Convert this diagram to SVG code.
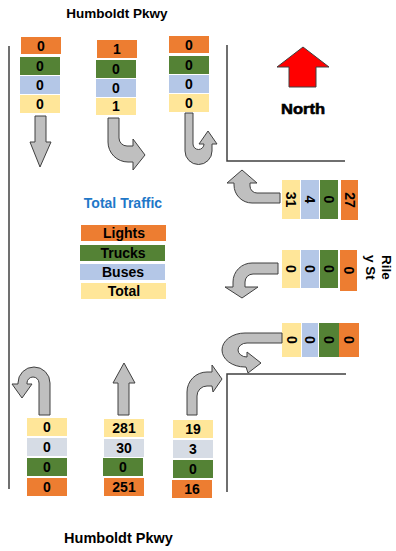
<svg xmlns="http://www.w3.org/2000/svg" width="396" height="551" viewBox="0 0 396 551">
<style>
.o{fill:#ED7D31}.g{fill:#548235}.b{fill:#B4C7E7}.y{fill:#FFE699}.s{fill:#D6DCE5}
.n{font-family:"Liberation Sans",Arial,sans-serif;font-weight:bold;font-size:14px;fill:#000;text-anchor:middle}
.lg{font-family:"Liberation Sans",Arial,sans-serif;font-weight:bold;font-size:14px;fill:#000;text-anchor:middle}
.t{font-family:"Liberation Sans",Arial,sans-serif;font-weight:bold;fill:#000}
.arr{fill:#BFBFBF;stroke:#404040;stroke-width:1;stroke-linejoin:miter}
.ln{stroke:#404040;stroke-width:1.5;fill:none}
</style>
<rect width="396" height="551" fill="#fff"/>

<g id="road-lines">
<line class="ln" x1="9" y1="46" x2="9" y2="489"/>
<polyline class="ln" points="227,45 227,161 345,161"/>
<polyline class="ln" points="227,492 227,374 346,374"/>
</g>

<g id="labels">
<text class="t" x="117" y="18" font-size="13.5" text-anchor="middle">Humboldt Pkwy</text>
<text class="t" x="118.5" y="543" font-size="14.5" text-anchor="middle">Humboldt Pkwy</text>
<text class="t" transform="translate(382,255) rotate(90)" font-size="13.5">Rile</text>
<text class="t" transform="translate(366,255) rotate(90)" font-size="13.5">y St</text>
</g>

<g id="north">
<polygon points="303,47 329,67 316,67 316,87 289,87 289,67 277,67" fill="#FF0000" stroke="#404040" stroke-width="1"/>
<text class="t" x="303" y="114" font-size="15" text-anchor="middle" stroke="#000" stroke-width="0.6" textLength="44" lengthAdjust="spacingAndGlyphs">North</text>
</g>

<g id="legend">
<text class="t" x="123" y="208" font-size="14" text-anchor="middle" style="fill:#1F78C8">Total Traffic</text>
<rect class="o" x="81" y="225" width="85" height="16"/>
<text class="lg" x="124" y="238">Lights</text>
<rect class="g" x="80" y="245" width="85" height="16"/>
<text class="lg" x="123" y="258">Trucks</text>
<rect class="b" x="80" y="264" width="85" height="16"/>
<text class="lg" x="123" y="277">Buses</text>
<rect class="y" x="81" y="283" width="85" height="16"/>
<text class="lg" x="124" y="296">Total</text>
</g>

<g id="stack-top-left">
<rect class="o" x="21" y="37" width="40" height="17"/><text class="n" x="41" y="51">0</text>
<rect class="g" x="20" y="57" width="40" height="18"/><text class="n" x="40" y="71">0</text>
<rect class="b" x="20" y="76" width="40" height="18"/><text class="n" x="40" y="90">0</text>
<rect class="y" x="20" y="95" width="40" height="18"/><text class="n" x="40" y="109">0</text>
</g>

<g id="stack-top-mid">
<rect class="o" x="97" y="40" width="40" height="18"/><text class="n" x="117" y="54">1</text>
<rect class="g" x="96" y="60" width="40" height="18"/><text class="n" x="116" y="74">0</text>
<rect class="b" x="96" y="79" width="40" height="18"/><text class="n" x="116" y="93">0</text>
<rect class="y" x="96" y="98" width="40" height="17"/><text class="n" x="116" y="111">1</text>
</g>

<g id="stack-top-right">
<rect class="o" x="169" y="36" width="40" height="17"/><text class="n" x="189" y="50">0</text>
<rect class="g" x="169" y="56" width="40" height="18"/><text class="n" x="189" y="70">0</text>
<rect class="b" x="169" y="75" width="40" height="18"/><text class="n" x="189" y="89">0</text>
<rect class="y" x="169" y="94" width="40" height="18"/><text class="n" x="189" y="108">0</text>
</g>

<g id="stack-right-1">
<rect class="y" x="282" y="180" width="18" height="39"/><text class="n" transform="translate(291,199.5) rotate(90)" y="5">31</text>
<rect class="b" x="301" y="180" width="18" height="39"/><text class="n" transform="translate(310,199.5) rotate(90)" y="5">4</text>
<rect class="g" x="320" y="180" width="18" height="39"/><text class="n" transform="translate(329,199.5) rotate(90)" y="5">0</text>
<rect class="o" x="341" y="180" width="17" height="40"/><text class="n" transform="translate(349.5,200) rotate(90)" y="5">27</text>
</g>

<g id="stack-right-2">
<rect class="y" x="282" y="250" width="18" height="38"/><text class="n" transform="translate(291,269) rotate(90)" y="5">0</text>
<rect class="b" x="301" y="250" width="18" height="38"/><text class="n" transform="translate(310,269) rotate(90)" y="5">0</text>
<rect class="g" x="320" y="250" width="18" height="38"/><text class="n" transform="translate(329,269) rotate(90)" y="5">0</text>
<rect class="o" x="340" y="250" width="17" height="41"/><text class="n" transform="translate(348.5,270.5) rotate(90)" y="5">0</text>
</g>

<g id="stack-right-3">
<rect class="y" x="282" y="323" width="19" height="34"/><text class="n" transform="translate(291.5,340) rotate(90)" y="5">0</text>
<rect class="b" x="302" y="323" width="16" height="34"/><text class="n" transform="translate(310,340) rotate(90)" y="5">0</text>
<rect class="g" x="319" y="323" width="20" height="34"/><text class="n" transform="translate(329,340) rotate(90)" y="5">0</text>
<rect class="o" x="339" y="323" width="20" height="34"/><text class="n" transform="translate(349,340) rotate(90)" y="5">0</text>
</g>

<g id="stack-bottom-left">
<rect class="y" x="27" y="418" width="40" height="18"/><text class="n" x="47" y="432">0</text>
<rect class="s" x="27" y="438" width="40" height="18"/><text class="n" x="47" y="452">0</text>
<rect class="g" x="27" y="458" width="40" height="18"/><text class="n" x="47" y="472">0</text>
<rect class="o" x="27" y="478" width="40" height="18"/><text class="n" x="47" y="492">0</text>
</g>

<g id="stack-bottom-mid">
<rect class="y" x="104" y="419" width="40" height="18"/><text class="n" x="124" y="433">281</text>
<rect class="s" x="104" y="439" width="40" height="18"/><text class="n" x="124" y="453">30</text>
<rect class="g" x="103" y="458" width="40" height="18"/><text class="n" x="123" y="472">0</text>
<rect class="o" x="104" y="478" width="40" height="18"/><text class="n" x="124" y="492">251</text>
</g>

<g id="stack-bottom-right">
<rect class="y" x="173" y="420" width="40" height="18"/><text class="n" x="193" y="434">19</text>
<rect class="s" x="173" y="440" width="40" height="18"/><text class="n" x="193" y="454">3</text>
<rect class="g" x="173" y="460" width="40" height="18"/><text class="n" x="193" y="474">0</text>
<rect class="o" x="172" y="480" width="40" height="18"/><text class="n" x="192" y="494">16</text>
</g>

<g id="connectors">
<path class="arr" d="M35,116 L46,116 L46,142 L51,142 L40,167 L30,142 L35,142 Z"/>
<path class="arr" d="M108,118 L119,118 L119,138 A8,8 0 0 0 127,146 L133,146 L133,139 L145,155 L133,170 L133,162 L128,162 A20,20 0 0 1 108,142 Z"/>
<path class="arr" d="M185,113 L193,113 L193,144 A5.5,5.5 0 0 0 204,144 L199,144 L208,131 L217,144 L212,144 L212,151 A13.5,13.5 0 0 1 185,151 Z"/>
<path class="arr" d="M280,193 L257,193 A7,7 0 0 1 250,186 L250,183 L257,183 L242,170 L227,183 L234,183 L234,185 A18,18 0 0 0 252,203 L280,203 Z"/>
<path class="arr" d="M278,263 L252,263 A19,19 0 0 0 233,282 L233,287 L225,287 L242,298 L258,287 L245,287 L245,282 A8,8 0 0 1 253,274 L278,274 Z"/>
<path class="arr" d="M282,333 L245,333 A23,17 0 0 0 245,367 L246,367 L248,373 L261,363 L247,352 L247,357 A9,7 0 0 1 247,343 L282,343 Z"/>
<path class="arr" d="M39,415 L50,415 L50,383 A16,16 0 0 0 18,383 L18,384 L12,384 L22,398 L32,384 L27,384 L27,383 A6,6 0 0 1 39,383 Z"/>
<path class="arr" d="M118,415 L129,415 L129,383 L135,383 L124,363 L113,383 L118,383 Z"/>
<path class="arr" d="M187,415 L197,415 L197,396 A10,10 0 0 1 207,386 L212,386 L213,392 L222,379 L212,365 L212,372 L207,372 A20,20 0 0 0 187,392 Z"/>
</g>
</svg>
